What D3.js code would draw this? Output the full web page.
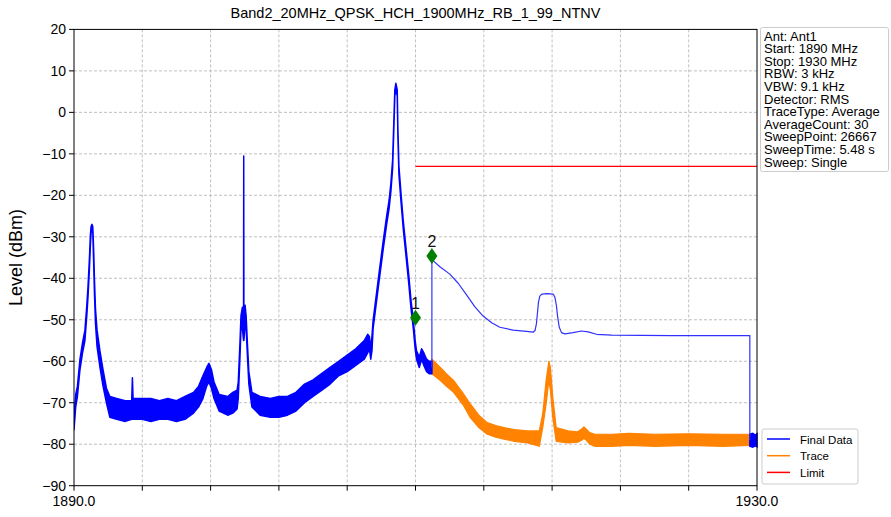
<!DOCTYPE html>
<html><head><meta charset="utf-8">
<script src="https://cdn.jsdelivr.net/npm/d3@7"></script>
<style>
html,body{margin:0;padding:0;background:#fff;}
svg{display:block;font-family:"Liberation Sans",Arial,sans-serif;}
</style></head>
<body>
<svg id="chart" width="891" height="517"></svg>
<script>
// ---------- data ----------
const title = "Band2_20MHz_QPSK_HCH_1900MHz_RB_1_99_NTNV";
const yLabel = "Level (dBm)";
const xTickValues = [1890,1894,1898,1902,1906,1910,1914,1918,1922,1926,1930];
const xTickLabels = ["1890.0","","","","","","","","","","1930.0"];
const yTickValues = [20,10,0,-10,-20,-30,-40,-50,-60,-70,-80,-90];

// Final Data – noisy part (frequency MHz, lower / upper edge of the noise band, dBm)
const finalFreq = [1890.00,1890.10,1890.20,1890.35,1890.50,1890.64,1890.75,1890.82,1890.90,1890.96,1891.00,1891.05,1891.10,1891.15,1891.20,1891.26,1891.35,1891.52,1891.70,1891.90,1892.10,1892.50,1893.00,1893.38,1893.42,1893.46,1894.00,1894.50,1895.00,1895.50,1896.00,1896.50,1897.00,1897.30,1897.55,1897.77,1897.90,1898.05,1898.20,1898.50,1899.00,1899.30,1899.55,1899.62,1899.72,1899.78,1899.86,1899.93,1899.94,1899.95,1900.02,1900.08,1900.16,1900.24,1900.42,1900.90,1901.50,1902.00,1902.50,1903.00,1903.50,1904.00,1904.50,1905.00,1905.50,1906.00,1906.50,1907.00,1907.20,1907.30,1907.38,1907.45,1907.52,1907.72,1907.92,1908.11,1908.31,1908.46,1908.56,1908.66,1908.74,1908.79,1908.85,1908.93,1908.97,1909.03,1909.15,1909.28,1909.44,1909.60,1909.73,1909.87,1909.98,1910.06,1910.22,1910.36,1910.49,1910.65,1910.80,1910.96];
const finalLo   = [-76.5,-71,-68.5,-62,-58,-55,-49,-44.5,-38,-32,-29,-28.5,-29,-36,-44,-51,-56.5,-61.5,-66,-70,-73.5,-74,-74.5,-74,-72,-74,-74,-74.5,-74,-74,-74.5,-74,-72.5,-71,-69,-66,-65,-66.5,-69,-72,-73,-72.5,-71.5,-69,-59,-52,-52,-55,-55,-55,-51,-52,-59,-65.5,-71,-73,-73.5,-73.5,-73,-72,-70,-68.5,-67,-65.5,-63.5,-62.5,-61,-59.5,-58,-57,-59.5,-57.5,-52,-45.5,-39,-33,-27,-23,-19,-13.5,-3,4,5.5,4,-6,-15,-21.5,-28,-34.5,-41,-47,-52,-57,-59.5,-61.5,-59.5,-61,-62.5,-63,-63];
const finalHi   = [-73,-68,-66,-59.5,-55.5,-52.5,-46.5,-42,-35.5,-29.5,-27.5,-27,-27.5,-33,-40.5,-47.5,-52.5,-57.5,-62,-66.5,-68.5,-69,-69.5,-69.5,-64,-69,-69,-69,-69.5,-69,-69.5,-68.5,-67.5,-66,-63.5,-61.5,-60.5,-62,-65,-68,-68.5,-67.5,-67,-65,-55.5,-49,-47,-47,-10.5,-47,-46.5,-49,-56,-62.5,-67.5,-68.5,-69,-68.5,-68.5,-67.5,-65.5,-64.5,-63,-61.5,-60,-58.5,-57,-55,-53.5,-54,-57,-54,-50,-43.5,-37,-31,-25,-21,-17,-11.5,-1,5.5,7,5.5,-4,-13,-19.5,-26,-32.5,-39,-45,-50,-55,-57.5,-59,-57,-58,-59.5,-60,-60];

// Final Data – smooth part after marker 2 (frequency MHz, dBm)
const smoothFreq = [1910.96,1910.96,1911.43,1912.01,1912.50,1912.99,1913.48,1913.96,1914.46,1914.94,1915.72,1916.50,1916.89,1917.00,1917.08,1917.14,1917.20,1917.28,1917.40,1917.70,1918.06,1918.16,1918.25,1918.33,1918.42,1918.55,1918.75,1919.23,1919.72,1920.11,1920.60,1921.50,1925.00,1929.58,1929.58];
const smoothVal  = [-61.5,-35.5,-37.2,-39,-41.2,-44,-46.9,-49.1,-50.7,-51.8,-52.5,-52.8,-53,-52.6,-51,-48.5,-45.8,-44.3,-43.8,-43.7,-43.8,-44.5,-46.5,-49.5,-51.8,-53.1,-53.4,-53.1,-52.7,-52.9,-53.5,-53.7,-53.8,-53.8,-79];

// Final Data – noisy tail at the right edge
const tailFreq = [1929.58,1929.75,1929.9,1930.0];
const tailLo   = [-80.5,-80.7,-80.4,-80.6];
const tailHi   = [-77.6,-77.4,-77.8,-77.5];

// Trace (orange) noise band
const traceFreq = [1910.96,1911.44,1911.80,1912.23,1912.82,1913.21,1913.71,1914.20,1914.70,1915.19,1915.80,1916.56,1917.25,1917.45,1917.65,1917.81,1917.90,1918.04,1918.24,1918.93,1919.50,1919.75,1919.86,1920.00,1920.20,1920.50,1921.50,1922.50,1924.06,1926.00,1928.00,1929.58];
const traceLo   = [-63,-64.6,-66,-67.5,-70.7,-73.6,-76,-77.6,-78.3,-78.8,-79.3,-79.7,-80.5,-76,-70.3,-64.6,-67,-73.6,-79.3,-79.7,-79.5,-79,-78.6,-79,-80,-80.5,-80.5,-80.3,-80.5,-80.3,-80.5,-80.3];
const traceHi   = [-59.5,-61.4,-63,-64.6,-67.9,-70.3,-73,-74.8,-75.5,-76,-76.5,-76.8,-76.8,-72.7,-64.6,-60,-61.5,-68.7,-76,-76.8,-77,-76.3,-75.8,-76.4,-77.2,-77.6,-77.6,-77.4,-77.6,-77.5,-77.6,-77.6];

// Limit line
const limitFreq = [1910, 1930];
const limitVal  = [-13, -13];

// Markers
const markerFreq  = [1910.0, 1910.96];
const markerVal   = [-49.5, -34.6];
const markerLabel = ["1", "2"];

// Info box
const infoLines = ["Ant: Ant1","Start: 1890 MHz","Stop: 1930 MHz","RBW: 3 kHz","VBW: 9.1 kHz","Detector: RMS","TraceType: Average","AverageCount: 30","SweepPoint: 26667","SweepTime: 5.48 s","Sweep: Single"];

// Legend
const legendNames  = ["Final Data","Trace","Limit"];
const legendColors = ["#0000ff","#ff8200","#ff0000"];

// ---------- drawing ----------
const svg = d3.select("#chart");
const L = 74, R = 757, T = 29.4, B = 485.7;
const x = d3.scaleLinear().domain([1890,1930]).range([L,R]);
const y = d3.scaleLinear().domain([-90,20]).range([B,T]);

svg.append("defs").append("clipPath").attr("id","clip")
  .append("rect").attr("x",L).attr("y",T).attr("width",R-L+1).attr("height",B-T);

// grid
const grid = svg.append("g");
grid.selectAll("line.gx").data(xTickValues.slice(1,-1)).enter().append("line")
  .attr("x1",d=>x(d)).attr("x2",d=>x(d)).attr("y1",T).attr("y2",B)
  .attr("stroke","#b0b0b0").attr("stroke-width",0.8).attr("stroke-dasharray","3,2");
grid.selectAll("line.gy").data(yTickValues.slice(1,-1)).enter().append("line")
  .attr("y1",d=>y(d)).attr("y2",d=>y(d)).attr("x1",L).attr("x2",R)
  .attr("stroke","#b0b0b0").attr("stroke-width",0.8).attr("stroke-dasharray","3,2");

const plot = svg.append("g").attr("clip-path","url(#clip)");

function band(fr, lo, hi){ return fr.map((f,i)=>({f, lo:lo[i], hi:hi[i]})); }
const area = d3.area().x(d=>x(d.f)).y0(d=>y(d.lo)).y1(d=>y(d.hi));

// trace (orange)
plot.append("path").datum(band(traceFreq,traceLo,traceHi)).attr("d",area)
  .attr("fill",legendColors[1]).attr("stroke",legendColors[1]).attr("stroke-width",1.2).attr("stroke-linejoin","round");

// final data noisy part
plot.append("path").datum(band(finalFreq,finalLo,finalHi)).attr("d",area)
  .attr("fill",legendColors[0]).attr("stroke",legendColors[0]).attr("stroke-width",1.5).attr("stroke-linejoin","round");
plot.append("path").datum(band(tailFreq,tailLo,tailHi)).attr("d",area)
  .attr("fill",legendColors[0]).attr("stroke",legendColors[0]).attr("stroke-width",1.5);

// final data smooth part
const line = d3.line().x(d=>x(d[0])).y(d=>y(d[1]));
plot.append("path").datum(smoothFreq.map((f,i)=>[f,smoothVal[i]])).attr("d",line)
  .attr("fill","none").attr("stroke","#3030ff").attr("stroke-width",1.2).attr("stroke-linejoin","round");

// limit
plot.append("path").datum(limitFreq.map((f,i)=>[f,limitVal[i]])).attr("d",line)
  .attr("fill","none").attr("stroke",legendColors[2]).attr("stroke-width",1.3);

// markers
const mk = svg.append("g");
markerFreq.forEach((f,i)=>{
  const cx = x(f), cy = y(markerVal[i]);
  mk.append("path").attr("d",`M${cx},${cy-8}L${cx+5.5},${cy}L${cx},${cy+8}L${cx-5.5},${cy}Z`).attr("fill","#008000");
  mk.append("text").attr("x",cx).attr("y",cy-9).attr("text-anchor","middle")
    .attr("font-size",16).attr("fill","#111").text(markerLabel[i]);
});

// spines
svg.append("rect").attr("x",L).attr("y",T).attr("width",R-L).attr("height",B-T)
  .attr("fill","none").attr("stroke","#000").attr("stroke-width",1);

// x ticks
const xt = svg.append("g");
xTickValues.forEach((v,i)=>{
  xt.append("line").attr("x1",x(v)).attr("x2",x(v)).attr("y1",B).attr("y2",B+5).attr("stroke","#000");
  if (xTickLabels[i]) xt.append("text").attr("x",x(v)).attr("y",B+20).attr("text-anchor","middle")
    .attr("font-size",14).attr("fill","#000").text(xTickLabels[i]);
});
// y ticks
const yt = svg.append("g");
yTickValues.forEach(v=>{
  yt.append("line").attr("x1",L-5).attr("x2",L).attr("y1",y(v)).attr("y2",y(v)).attr("stroke","#000");
  yt.append("text").attr("x",L-8).attr("y",y(v)+5).attr("text-anchor","end")
    .attr("font-size",14).attr("fill","#000").text(String(v).replace("-","\u2212"));
});

// title & axis label
svg.append("text").attr("x",(L+R)/2).attr("y",18).attr("text-anchor","middle")
  .attr("font-size",14.5).attr("fill","#000").text(title);
svg.append("text").attr("transform",`translate(22,${(T+B)/2}) rotate(-90)`).attr("text-anchor","middle")
  .attr("font-size",18).attr("fill","#000").text(yLabel);

// info box
const info = svg.append("g");
info.append("rect").attr("x",760.5).attr("y",27.5).attr("width",128).attr("height",144).attr("rx",2)
  .attr("fill","#fff").attr("stroke","#cccccc").attr("stroke-width",1);
infoLines.forEach((t,i)=>{
  info.append("text").attr("x",764).attr("y",40.5+i*12.6).attr("font-size",13).attr("fill","#000").text(t);
});

// legend
const lg = svg.append("g");
lg.append("rect").attr("x",762).attr("y",429).attr("width",96).attr("height",55).attr("rx",2)
  .attr("fill","#fff").attr("stroke","#cccccc").attr("stroke-width",1);
legendNames.forEach((n,i)=>{
  const yy = 439 + i*16.7;
  lg.append("line").attr("x1",767).attr("x2",790).attr("y1",yy).attr("y2",yy)
    .attr("stroke",legendColors[i]).attr("stroke-width",1.5);
  lg.append("text").attr("x",800).attr("y",yy+4.5).attr("font-size",11.5).attr("fill","#000").text(n);
});
</script>
</body></html>
